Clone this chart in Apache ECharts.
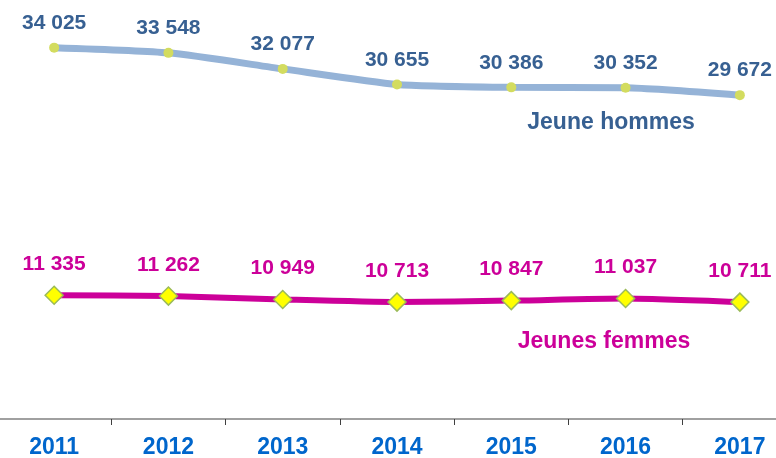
<!DOCTYPE html>
<html>
<head>
<meta charset="utf-8">
<script src="https://cdn.jsdelivr.net/npm/echarts@6/dist/echarts.min.js"></script>
<style>
html,body{margin:0;padding:0;background:#fff;overflow:hidden;width:776px;height:458px;position:relative;}
#c{position:absolute;left:-3px;top:0;width:800px;height:458px;}
</style>
</head>
<body>
<div id="c"></div>
<script>
const years = ['2011','2012','2013','2014','2015','2016','2017'];
const hommes = [34025, 33548, 32077, 30655, 30386, 30352, 29672];
const femmes = [11335, 11262, 10949, 10713, 10847, 11037, 10711];
const nameHommes = 'Jeune hommes';
const nameFemmes = 'Jeunes femmes';

const fmt = v => String(v.value !== undefined ? v.value : v).replace(/\B(?=(\d{3})+(?!\d))/g, ' ');
const FONT = '"Liberation Sans", Arial, sans-serif';

const chart = echarts.init(document.getElementById('c'), null, {renderer: 'canvas'});
chart.setOption({
  animation: false,
  backgroundColor: '#ffffff',
  grid: {left: 0, top: 37, right: 0, bottom: 39, containLabel: false, outerBoundsMode: 'none'},
  xAxis: {
    type: 'category',
    data: years,
    boundaryGap: true,
    axisLine: {lineStyle: {color: '#808080', width: 1.5}},
    axisTick: {show: true, length: 6, lineStyle: {color: '#404040', width: 1}},
    axisLabel: {color: '#0066CC', fontSize: 23, fontWeight: 'bold', fontFamily: FONT, margin: 17, interval: 0}
  },
  yAxis: {
    type: 'value', min: 0, max: 35000,
    show: false, splitLine: {show: false}
  },
  series: [
    {
      name: nameHommes, type: 'line', data: hommes, smooth: 0.2,
      lineStyle: {color: '#95B3D7', width: 7},
      symbol: 'circle', symbolSize: 10,
      itemStyle: {color: '#D3DC5F', borderWidth: 0},
      label: {show: true, position: 'top', distance: 9, color: '#376092', fontSize: 21, fontWeight: 'bold', fontFamily: FONT, formatter: fmt}
    },
    {
      name: nameFemmes, type: 'line', data: femmes, smooth: 0.2,
      lineStyle: {color: '#CC0099', width: 6},
      symbol: 'diamond', symbolSize: [18, 18],
      itemStyle: {color: '#FFFF00', borderColor: '#9BBB59', borderWidth: 1.5},
      label: {show: true, position: 'top', distance: 11, color: '#CC0099', fontSize: 21, fontWeight: 'bold', fontFamily: FONT, formatter: fmt}
    }
  ],
  graphic: [
    {type: 'text', x: 614, y: 123, style: {text: nameHommes, fill: '#376092', font: 'bold 23px ' + FONT, align: 'center', verticalAlign: 'middle'}},
    {type: 'text', x: 607, y: 342, style: {text: nameFemmes, fill: '#CC0099', font: 'bold 23px ' + FONT, align: 'center', verticalAlign: 'middle'}}
  ]
});
</script>
</body>
</html>
